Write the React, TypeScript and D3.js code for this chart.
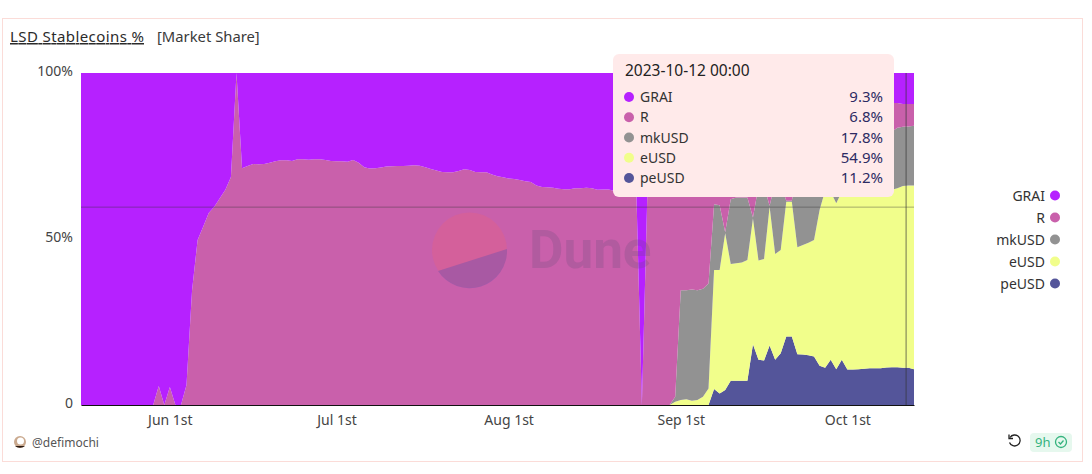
import { useEffect, useRef } from "react";
import * as d3 from "d3";

const seriesNames = ["GRAI", "R", "mkUSD", "eUSD", "peUSD"];
const seriesColors = ["#b621ff", "#c960ab", "#929292", "#f1fe8b", "#54559a"];
const tooltipValues = ["9.3%", "6.8%", "17.8%", "54.9%", "11.2%"];
const tooltipDate = "2023-10-12 00:00";
const firstDay = new Date(2023, 4, 16);

// one value per day, ten days to a row
const grai = [
  100, 100, 100, 100, 100, 100, 100, 100, 100, 100,
  100, 100, 100, 100, 94.3, 100, 94.6, 100, 100, 94,
  65.4, 50.3, 46.3, 42.2, 40.3, 37.7, 35.2, 31.3, 0, 28.7,
  28, 27.4, 27.5, 27.4, 27, 26.6, 26.3, 26.3, 26.5, 26,
  26, 26.1, 26, 26, 26.2, 26.5, 26.6, 26.6, 26.7, 26.2,
  27, 28.4, 28.8, 28.7, 28.5, 28.2, 28.1, 28, 28, 27.9,
  27.8, 27.9, 28.4, 28.9, 29.4, 29.8, 29.9, 29.9, 29.5, 29,
  29.2, 29.8, 29.9, 29.9, 30.6, 31.1, 31.4, 31.8, 31.9, 32.2,
  32.6, 32.8, 33.9, 34.3, 34.4, 34.6, 34.9, 35, 35, 34.7,
  34.7, 34.6, 34.7, 35.2, 35.1, 35.1, 35.5, 35.5, 35.6, 35.5,
  35.5, 100, 35.4, 35.2, 35, 35, 35.2, 35, 35, 35,
  35, 35, 35, 34, 34, 34, 34, 34, 34, 34,
  34, 34, 33, 33, 33, 32, 31.5, 31.5, 30.5, 28,
  25.8, 24.1, 22.8, 21.3, 19.9, 18.3, 17.2, 16.3, 15, 14,
  13.4, 12.8, 12.3, 12, 11.5, 11.2, 9, 9, 9.3, 9.3,
  9.3,
];
const r = [
  0, 0, 0, 0, 0, 0, 0, 0, 0, 0,
  0, 0, 0, 0, 5.7, 0, 5.4, 0, 0, 6,
  34.6, 49.7, 53.7, 57.8, 59.7, 62.3, 64.8, 68.7, 100, 71.3,
  72, 72.6, 72.5, 72.6, 73, 73.4, 73.7, 73.7, 73.5, 74,
  74, 73.9, 74, 74, 73.8, 73.5, 73.4, 73.4, 73.3, 73.8,
  73, 71.6, 71.2, 71.3, 71.5, 71.8, 71.9, 72, 72, 72.1,
  72.2, 72.1, 71.6, 71.1, 70.6, 70.2, 70.1, 70.1, 70.5, 71,
  70.8, 70.2, 70.1, 70.1, 69.4, 68.9, 68.6, 68.2, 68.1, 67.8,
  67.4, 67.2, 66.1, 65.7, 65.6, 65.4, 65.1, 65, 65, 65.3,
  65.3, 65.4, 65.3, 64.8, 64.9, 64.9, 64.5, 64.5, 64.4, 64.5,
  64.5, 0, 64.6, 64.8, 65, 65, 64.8, 62.5, 30.4, 30.4,
  30.2, 30.4, 30, 29.4, 5.5, 5.8, 14, 4, 3.5, 3.5,
  3.5, 9.5, 1, 1, 7, 1, 2, 7, 8, 2,
  3, 3.5, 3.5, 4, 4.5, 5, 5, 5, 5.5, 5.8,
  6, 6.2, 6.5, 6.6, 6.8, 6.9, 8.7, 7.5, 6.9, 6.8,
  6.6,
];
const mkUsd = [
  0, 0, 0, 0, 0, 0, 0, 0, 0, 0,
  0, 0, 0, 0, 0, 0, 0, 0, 0, 0,
  0, 0, 0, 0, 0, 0, 0, 0, 0, 0,
  0, 0, 0, 0, 0, 0, 0, 0, 0, 0,
  0, 0, 0, 0, 0, 0, 0, 0, 0, 0,
  0, 0, 0, 0, 0, 0, 0, 0, 0, 0,
  0, 0, 0, 0, 0, 0, 0, 0, 0, 0,
  0, 0, 0, 0, 0, 0, 0, 0, 0, 0,
  0, 0, 0, 0, 0, 0, 0, 0, 0, 0,
  0, 0, 0, 0, 0, 0, 0, 0, 0, 0,
  0, 0, 0, 0, 0, 0, 0, 1.5, 33.1, 32.9,
  33.5, 33.1, 32.5, 31.6, 19.8, 19.5, 0.3, 19.5, 19.8, 19.6,
  18.8, 0.3, 22.5, 22, 0.3, 21.5, 19.8, 0.3, 0.3, 22.5,
  23, 23.5, 24, 16, 11, 12.5, 17, 14.5, 15.3, 15.8,
  16, 16.3, 16.5, 16.7, 17, 17.2, 17.5, 18.2, 17.8, 17.8,
  18,
];
const eUsd = [
  0, 0, 0, 0, 0, 0, 0, 0, 0, 0,
  0, 0, 0, 0, 0, 0, 0, 0, 0, 0,
  0, 0, 0, 0, 0, 0, 0, 0, 0, 0,
  0, 0, 0, 0, 0, 0, 0, 0, 0, 0,
  0, 0, 0, 0, 0, 0, 0, 0, 0, 0,
  0, 0, 0, 0, 0, 0, 0, 0, 0, 0,
  0, 0, 0, 0, 0, 0, 0, 0, 0, 0,
  0, 0, 0, 0, 0, 0, 0, 0, 0, 0,
  0, 0, 0, 0, 0, 0, 0, 0, 0, 0,
  0, 0, 0, 0, 0, 0, 0, 0, 0, 0,
  0, 0, 0, 0, 0, 0, 0, 1, 1.5, 1.7,
  1.3, 1.5, 2.5, 5, 35.9, 37.2, 47.2, 35.2, 35.4, 35.6,
  36.4, 37.9, 29.9, 30.6, 41.8, 31.9, 31.1, 40.6, 40.6, 32.2,
  33, 33.9, 35.1, 46.9, 53.4, 50.6, 50, 50.6, 53.5, 53.7,
  53.8, 53.8, 53.6, 53.6, 53.6, 53.4, 53.4, 53.9, 54.8, 54.9,
  55.3,
];
const peUsd = [
  0, 0, 0, 0, 0, 0, 0, 0, 0, 0,
  0, 0, 0, 0, 0, 0, 0, 0, 0, 0,
  0, 0, 0, 0, 0, 0, 0, 0, 0, 0,
  0, 0, 0, 0, 0, 0, 0, 0, 0, 0,
  0, 0, 0, 0, 0, 0, 0, 0, 0, 0,
  0, 0, 0, 0, 0, 0, 0, 0, 0, 0,
  0, 0, 0, 0, 0, 0, 0, 0, 0, 0,
  0, 0, 0, 0, 0, 0, 0, 0, 0, 0,
  0, 0, 0, 0, 0, 0, 0, 0, 0, 0,
  0, 0, 0, 0, 0, 0, 0, 0, 0, 0,
  0, 0, 0, 0, 0, 0, 0, 0, 0, 0,
  0, 0, 0, 0, 4.8, 3.5, 4.5, 7.3, 7.3, 7.3,
  7.3, 18.3, 13.6, 13.4, 17.9, 13.6, 15.6, 20.6, 20.6, 15.3,
  15.2, 15, 14.6, 11.8, 11.2, 13.6, 10.8, 13.6, 10.7, 10.7,
  10.8, 10.9, 11.1, 11.1, 11.1, 11.3, 11.4, 11.4, 11.2, 11.2,
  10.8,
];

const xTickDates = [
  new Date(2023, 5, 1),
  new Date(2023, 6, 1),
  new Date(2023, 7, 1),
  new Date(2023, 8, 1),
  new Date(2023, 9, 1),
];
const xTickLabels = ["Jun 1st", "Jul 1st", "Aug 1st", "Sep 1st", "Oct 1st"];
const yTicks = [0, 50, 100];
const pointerDate = new Date(2023, 9, 11, 14);
const pointerValue = 59.6;

const width = 1092;
const height = 474;
const plot = { left: 81, right: 914, top: 73, bottom: 405 };
const font = "'Noto Sans', sans-serif";

const rows = grai.map((_, i) => ({
  date: d3.timeDay.offset(firstDay, i),
  GRAI: grai[i],
  R: r[i],
  mkUSD: mkUsd[i],
  eUSD: eUsd[i],
  peUSD: peUsd[i],
}));

export default function App() {
  const xAxisRef = useRef<SVGGElement>(null);
  const yAxisRef = useRef<SVGGElement>(null);

  const x = d3
    .scaleTime()
    .domain([rows[0].date, rows[rows.length - 1].date])
    .range([plot.left, plot.right]);
  const y = d3.scaleLinear().domain([0, 100]).range([plot.bottom, plot.top]);

  // peUSD sits at the bottom of the stack, GRAI on top
  const layers = d3.stack<any>().keys([...seriesNames].reverse())(rows);
  const area = d3
    .area<any>()
    .x((d) => x(d.data.date))
    .y0((d) => y(d[0]))
    .y1((d) => y(Math.min(d[1], 100)));

  useEffect(() => {
    const xAxis = d3
      .axisBottom(x)
      .tickValues(xTickDates)
      .tickSize(0)
      .tickPadding(10)
      .tickFormat((_, i) => xTickLabels[i]);
    const xg = d3.select(xAxisRef.current!).call(xAxis as any);
    xg.select(".domain").attr("stroke", "#111").attr("stroke-width", 1.2);
    xg.selectAll("text")
      .attr("font-family", font)
      .attr("font-size", 14)
      .attr("fill", "#444");

    const yAxis = d3
      .axisLeft(y)
      .tickValues(yTicks)
      .tickSize(0)
      .tickPadding(8)
      .tickFormat((d) => (d === 0 ? "0" : `${d}%`));
    const yg = d3.select(yAxisRef.current!).call(yAxis as any);
    yg.select(".domain").remove();
    yg.selectAll("text")
      .attr("font-family", font)
      .attr("font-size", 14)
      .attr("fill", "#444")
      .attr("dy", "0.18em");
  }, []);

  return (
    <svg
      width={width}
      height={height}
      style={{ position: "absolute", left: 0, top: 0, background: "#fff" }}
      fontFamily={font}
    >
      <rect x={2.5} y={18.5} width={1080} height={443} fill="#fff" stroke="#fbdcd8" />

      <text
        x={10}
        y={42}
        fontSize={15}
        fill="#2b2b2b"
        textDecoration="underline"
        textLength={134}
        lengthAdjust="spacing"
      >
        LSD Stablecoins %
      </text>
      <text x={157} y={42} fontSize={14.8} fill="#3a3a3a">
        [Market Share]
      </text>

      {layers.map((layer) => (
        <path
          key={layer.key}
          d={area(layer as any) ?? ""}
          fill={seriesColors[seriesNames.indexOf(layer.key)]}
        />
      ))}

      <g ref={yAxisRef} transform={`translate(${plot.left},0)`} />
      <g ref={xAxisRef} transform={`translate(0,${plot.bottom})`} />

      {/* watermark */}
      <g>
        <circle cx={469.5} cy={250} r={37.5} fill="#e8607f" fillOpacity={0.35} />
        <path
          d="M507 249A37.5 37.5 0 0 1 438 271Z"
          fill="#8a55a8"
          fillOpacity={0.6}
        />
        <text
          x={529}
          y={268}
          fontSize={53}
          fontWeight={700}
          fontFamily="Roboto, sans-serif"
          fill="#6a4a7a"
          fillOpacity={0.25}
        >
          Dune
        </text>
      </g>

      {/* crosshair */}
      <line x1={plot.left} x2={plot.right} y1={y(pointerValue)} y2={y(pointerValue)} stroke="#333" strokeOpacity={0.4} />
      <line x1={x(pointerDate)} x2={x(pointerDate)} y1={plot.top} y2={plot.bottom} stroke="#333" strokeOpacity={0.45} strokeWidth={1.5} />

      {/* tooltip */}
      <rect x={613} y={54} width={281} height={143} rx={6} fill="#ffeaea" />
      <text x={625} y={76} fontSize={15.5} fill="#222">
        {tooltipDate}
      </text>
      {seriesNames.map((name, i) => {
        const rowY = d3.scaleLinear().domain([0, 4]).range([97, 178])(i);
        return (
          <g key={name}>
            <circle cx={629} cy={rowY} r={5} fill={seriesColors[i]} />
            <text x={640} y={rowY + 5} fontSize={14} fill="#333">
              {name}
            </text>
            <text x={883} y={rowY + 5} fontSize={15} fill="#2d2a63" textAnchor="end">
              {tooltipValues[i]}
            </text>
          </g>
        );
      })}

      {/* legend */}
      {seriesNames.map((name, i) => {
        const rowY = d3.scaleLinear().domain([0, 4]).range([196, 284])(i);
        return (
          <g key={name}>
            <text x={1045} y={rowY + 5} fontSize={14} fill="#333" textAnchor="end">
              {name}
            </text>
            <circle cx={1055} cy={rowY - 0.5} r={5} fill={seriesColors[i]} />
          </g>
        );
      })}

      {/* footer */}
      <circle cx={20} cy={442} r={6} fill="#caa98e" />
      <circle cx={20.5} cy={441} r={3.5} fill="#fff" />
      <path d="M15 446a6 4 0 0 0 10 0z" fill="#2a1a12" />
      <text x={32} y={447} fontSize={12} fill="#555">
        @defimochi
      </text>

      <path
        d="M1010 437.5a5.5 5.5 0 1 1-.5 5"
        fill="none"
        stroke="#222"
        strokeWidth={1.3}
      />
      <path d="M1009 434.5v4h4" fill="none" stroke="#222" strokeWidth={1.3} />
      <rect x={1030} y={433} width={42} height={19} rx={4} fill="#e6f8ee" />
      <text x={1035} y={447} fontSize={13} fill="#35b37e">
        9h
      </text>
      <circle cx={1061} cy={442} r={5.5} fill="none" stroke="#35b37e" strokeWidth={1.3} />
      <path d="M1058.5 442l2 2 3-3.5" fill="none" stroke="#35b37e" strokeWidth={1.3} />
    </svg>
  );
}
